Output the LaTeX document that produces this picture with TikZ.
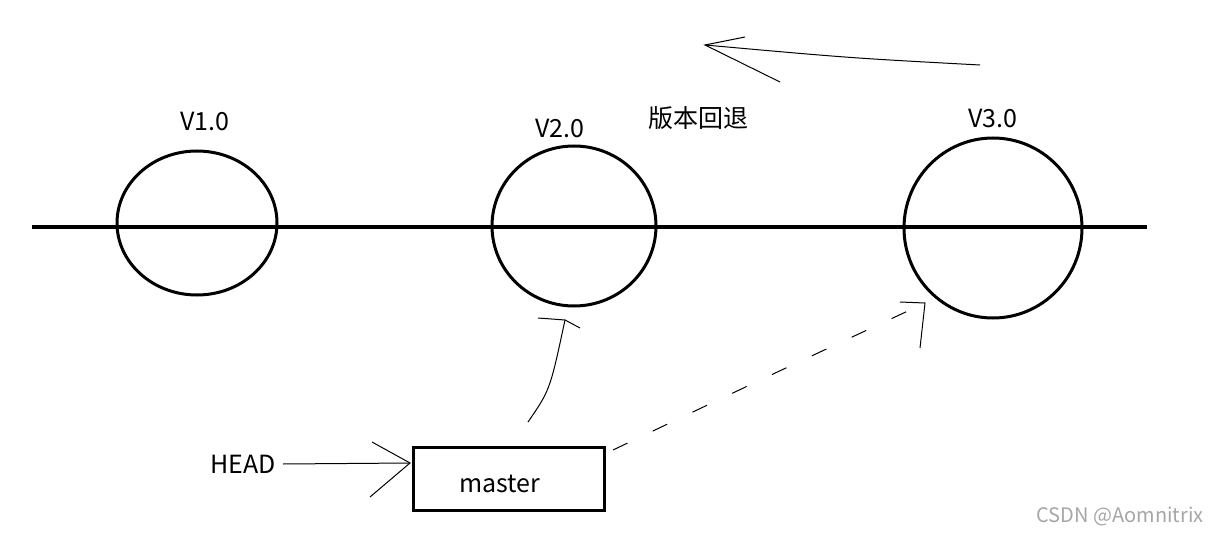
\documentclass[tikz,border=0pt]{standalone}
\usepackage{fontspec}
\setmainfont{Noto Sans CJK SC}
\begin{document}
\begin{tikzpicture}[x=0.5pt,y=-0.5pt,
  lbl/.style={font=\fontsize{12.5}{15}\selectfont},
  thin/.style={line width=0.5pt},
  ring/.style={draw,line width=1.5pt}]
\useasboundingbox (0,0) rectangle (1216,535);
\draw[line width=2pt] (32,227) coordinate(l) -- (1147,227) coordinate(r);
\draw[ring] (197,223) ellipse (80 and 72);
\draw[ring] (574,226) ellipse (82 and 80);
\draw[ring] (993,228) ellipse (89 and 90);
\node[lbl] (v1) at (205,122) {V1.0};
\node[lbl] (v2) at (560,129) {V2.0};
\node[lbl] (v3) at (993,118) {V3.0};
\node[lbl] (hb) at (698,118) {版本回退};
% top arrow
\coordinate (ts) at (980,65); \coordinate (te) at (705,45);
\draw[thin] (ts) .. controls (850,58) .. (te);
\draw[thin] (745,37) -- (te) -- (780,82);
% master
\node[draw,line width=1.5pt,minimum width=95.5pt,minimum height=31.5pt] (m) at (508.5,478.5) {};
\node[lbl] (mt) at (500,484) {master};
\node[lbl,anchor=east] (head) at (283,464) {HEAD};
\coordinate (he) at (410,463);
\draw[thin] (head.east) -- (he);
\draw[thin] (372,442) -- (he) -- (370,497);
% up arrow
\coordinate (us) at (528,422); \coordinate (ue) at (565,320);
\draw[thin] (us) .. controls (550,390) .. (ue);
\draw[thin] (538,318) -- (ue) -- (580,328);
% dashed arrow
\coordinate (ds) at (613,450); \coordinate (de) at (925,303);
\draw[thin,dash pattern=on 8pt off 14pt] (ds) .. controls (760,380) .. (de);
\draw[thin] (900,302) -- (de) -- (920,348);
\node[font=\fontsize{10}{12}\selectfont,text=gray!70] (wm) at (1120,516) {CSDN @Aomnitrix};
\end{tikzpicture}
\end{document}
